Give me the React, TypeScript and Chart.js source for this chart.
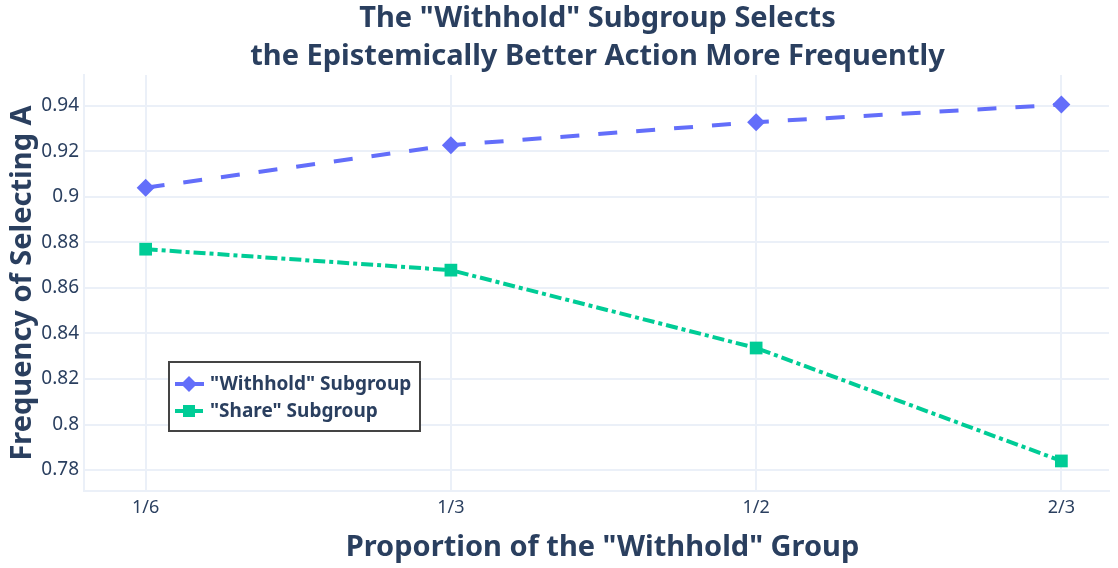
import React, { useEffect, useRef } from "react";
import { Chart, registerables } from "chart.js";

Chart.register(...registerables);

const categories = ["1/6", "1/3", "1/2", "2/3"];
const withholdValues = [0.904, 0.9227, 0.9328, 0.9405];
const shareValues = [0.877, 0.8678, 0.8336, 0.784];
const yTicks = [0.78, 0.8, 0.82, 0.84, 0.86, 0.88, 0.9, 0.92, 0.94];
const titleLines = ['The "Withhold" Subgroup Selects', "the Epistemically Better Action More Frequently"];
const xTitle = 'Proportion of the "Withhold" Group';
const yTitle = "Frequency of Selecting A";
const seriesNames = ['"Withhold" Subgroup', '"Share" Subgroup'];

const TEXT = "#2a3f5f";
const GRID = "#ebf0f8";
const BLUE = "#636efa";
const GREEN = "#00cc96";
const FONT = "'Noto Sans', 'Open Sans', sans-serif";

const textPlugin = {
  id: "customText",
  afterDraw(chart: any) {
    const { ctx, chartArea } = chart;
    const cx = (chartArea.left + chartArea.right) / 2;
    ctx.save();
    ctx.fillStyle = TEXT;
    ctx.textAlign = "center";
    ctx.textBaseline = "middle";
    ctx.font = `bold 29px ${FONT}`;
    ctx.fillText(titleLines[0], cx + 1, 19);
    ctx.fillText(titleLines[1], cx + 1, 57);
    ctx.fillText(xTitle, cx + 6, 548);
    ctx.save();
    ctx.translate(23, (chartArea.top + chartArea.bottom) / 2);
    ctx.rotate(-Math.PI / 2);
    ctx.fillText(yTitle, 0, 0);
    ctx.restore();

    // legend
    const bx = 169, by = 362, bw = 251, bh = 69;
    ctx.fillStyle = "#ffffff";
    ctx.fillRect(bx, by, bw, bh);
    ctx.strokeStyle = "#444444";
    ctx.lineWidth = 2;
    ctx.strokeRect(bx, by, bw, bh);
    const items = [
      { y: 384, color: BLUE, dash: [], marker: "diamond", name: seriesNames[0] },
      { y: 411, color: GREEN, dash: [8, 4, 4, 4], marker: "square", name: seriesNames[1] },
    ];
    items.forEach((it) => {
      ctx.strokeStyle = it.color;
      ctx.lineWidth = 4;
      ctx.setLineDash(it.dash);
      ctx.beginPath();
      ctx.moveTo(175, it.y);
      ctx.lineTo(204, it.y);
      ctx.stroke();
      ctx.setLineDash([]);
      ctx.fillStyle = it.color;
      ctx.beginPath();
      if (it.marker === "diamond") {
        ctx.moveTo(189, it.y - 8);
        ctx.lineTo(197, it.y);
        ctx.lineTo(189, it.y + 8);
        ctx.lineTo(181, it.y);
        ctx.closePath();
        ctx.fill();
      } else {
        ctx.fillRect(183, it.y - 6, 12, 12);
      }
      ctx.fillStyle = TEXT;
      ctx.textAlign = "left";
      ctx.font = `bold 19px ${FONT}`;
      ctx.fillText(it.name, 210, it.y + 1);
    });
    ctx.restore();
  },
};

export default function App() {
  const ref = useRef<HTMLCanvasElement>(null);
  useEffect(() => {
    document.body.style.margin = "0";
    const chart = new Chart(ref.current as HTMLCanvasElement, {
      type: "line",
      data: {
        datasets: [
          {
            label: seriesNames[0],
            data: withholdValues.map((v, i) => ({ x: i, y: v })),
            borderColor: BLUE,
            backgroundColor: BLUE,
            borderWidth: 4,
            borderDash: [19, 19],
            pointStyle: "rectRot",
            pointRadius: 9,
            pointBorderWidth: 0,
            fill: false,
          },
          {
            label: seriesNames[1],
            data: shareValues.map((v, i) => ({ x: i, y: v })),
            borderColor: GREEN,
            backgroundColor: GREEN,
            borderWidth: 4,
            borderDash: [12, 4, 4, 4],
            pointStyle: "rect",
            pointRadius: 9,
            pointBorderWidth: 0,
            fill: false,
          },
        ],
      },
      options: {
        animation: false,
        responsive: false,
        maintainAspectRatio: false,
        layout: { padding: { top: 75, right: 3, left: 0, bottom: 0 } },
        plugins: { legend: { display: false }, title: { display: false }, tooltip: { enabled: false } },
        scales: {
          x: {
            type: "linear",
            min: -0.202,
            max: 3.156,
            afterFit: (s: any) => { s.height = 77; },
            afterBuildTicks: (s: any) => { s.ticks = categories.map((_, i) => ({ value: i })); },
            ticks: {
              callback: (v: any) => categories[v] ?? "",
              color: TEXT,
              font: { family: FONT, size: 18 },
              padding: 6,
              maxRotation: 0,
            },
            grid: { color: GRID, lineWidth: 2, drawTicks: false },
            border: { display: true, color: GRID, width: 2 },
          },
          y: {
            type: "linear",
            min: 0.7708,
            max: 0.9535,
            afterFit: (s: any) => { s.width = 84; },
            afterBuildTicks: (s: any) => { s.ticks = yTicks.map((v) => ({ value: v })); },
            ticks: {
              callback: (v: any) => String(Number(Number(v).toFixed(2))),
              color: TEXT,
              font: { family: FONT, size: 19 },
              padding: 5,
            },
            grid: { color: GRID, lineWidth: 2, drawTicks: false },
            border: { display: true, color: GRID, width: 2 },
          },
        },
      },
      plugins: [textPlugin],
    } as any);
    return () => chart.destroy();
  }, []);
  return <canvas ref={ref} width={1118} height={568} style={{ display: "block" }} />;
}
